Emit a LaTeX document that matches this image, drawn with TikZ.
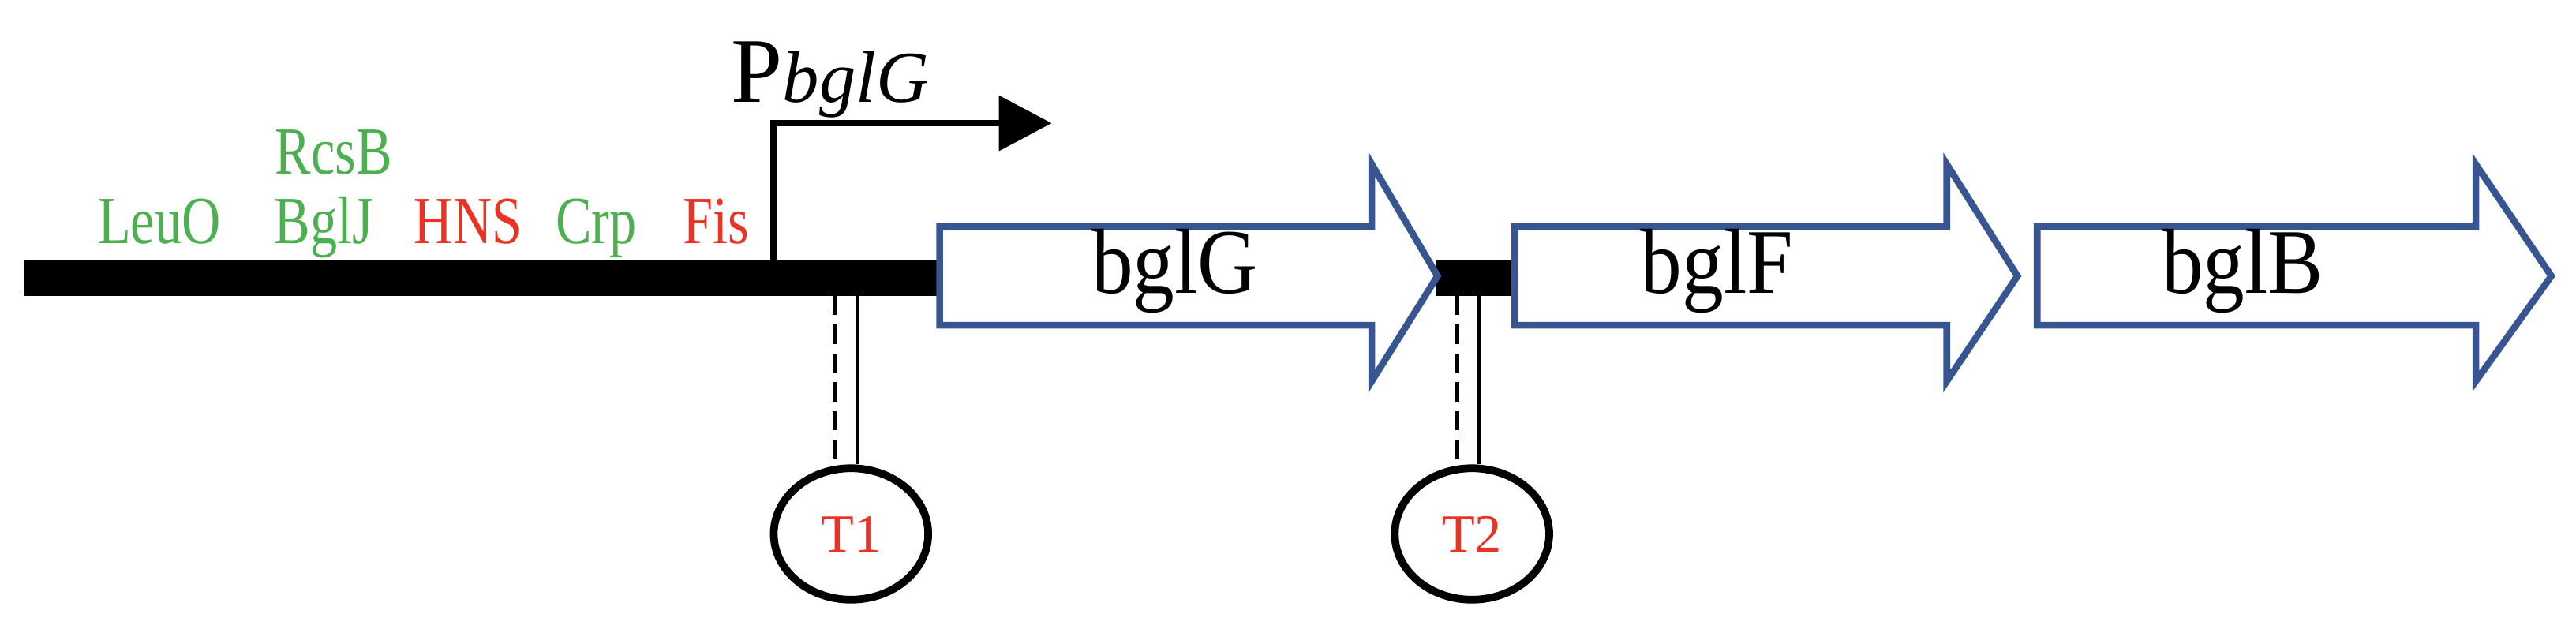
\documentclass[tikz,border=0pt]{standalone}
\usepackage{fontspec}
\setmainfont{Liberation Serif}
\usetikzlibrary{shapes.geometric}
\definecolor{gr}{RGB}{76,175,80}
\definecolor{rd}{RGB}{235,50,35}
\definecolor{bl}{RGB}{55,85,145}
\begin{document}
\begin{tikzpicture}[x=0.03cm,y=-0.03cm,
  gene/.style={draw=bl,line width=3.5pt,fill=white,line join=miter},
  glabel/.style={font=\fontsize{48}{52}\selectfont,xscale=0.9},
  tf/.style={font=\fontsize{35}{38}\selectfont,inner sep=0pt,anchor=base,xscale=0.8},
  term/.style={draw,ellipse,line width=4pt,minimum width=94*0.03cm,minimum height=80*0.03cm,text=rd,font=\fontsize{28}{30}\selectfont}]
\useasboundingbox (0,0) rectangle (1568,376);
% DNA bars
\fill (15,158) rectangle (574,180);
\fill (874,158) rectangle (922,180);
% genes
\draw[gene] (572,138) -- (835,138) -- (835,100) -- (875,168) -- (835,232) -- (835,198) -- (572,198) -- cycle;
\draw[gene] (922,138) -- (1185,138) -- (1185,100) -- (1228,168) -- (1185,232) -- (1185,198) -- (922,198) -- cycle;
\draw[gene] (1240,138) -- (1507,138) -- (1507,100) -- (1553,168) -- (1507,232) -- (1507,198) -- (1240,198) -- cycle;
\node[glabel] (g) at (715,165) {bglG};
\node[glabel] (f) at (1045,165) {bglF};
\node[glabel] (b) at (1365,165) {bglB};
% promoter
\coordinate (ps) at (471,158);
\coordinate (pe) at (612,75);
\draw[line width=3.5pt] (ps) |- (pe);
\fill (608,58) -- (640,75) -- (608,92) -- cycle;
\node[anchor=base west,inner sep=0pt,font=\fontsize{48}{52}\selectfont] (p) at (445,62) {P\textit{\fontsize{38}{40}\selectfont bglG}};
% TFs
\node[tf,text=gr] (rcsb) at (203,106) {RcsB};
\node[tf,text=gr] (leuo) at (97,148) {LeuO};
\node[tf,text=gr] (bglj) at (197,148) {BglJ};
\node[tf,text=rd] (hns) at (285,148) {HNS};
\node[tf,text=gr] (crp) at (363,148) {Crp};
\node[tf,text=rd] (fis) at (436,148) {Fis};
% terminators
\node[term] (t1) at (518,325) {T1};
\node[term] (t2) at (896,325) {T2};
\coordinate (a1) at (508,180); \coordinate (b1) at (522,180);
\coordinate (a2) at (887,180); \coordinate (b2) at (900,180);
\draw[line width=2pt,dashed,dash pattern=on 10pt off 5pt] (a1) -- (a1 |- t1.north);
\draw[line width=2pt] (b1) -- (b1 |- t1.north);
\draw[line width=2pt,dashed,dash pattern=on 10pt off 5pt] (a2) -- (a2 |- t2.north);
\draw[line width=2pt] (b2) -- (b2 |- t2.north);
\end{tikzpicture}
\end{document}
